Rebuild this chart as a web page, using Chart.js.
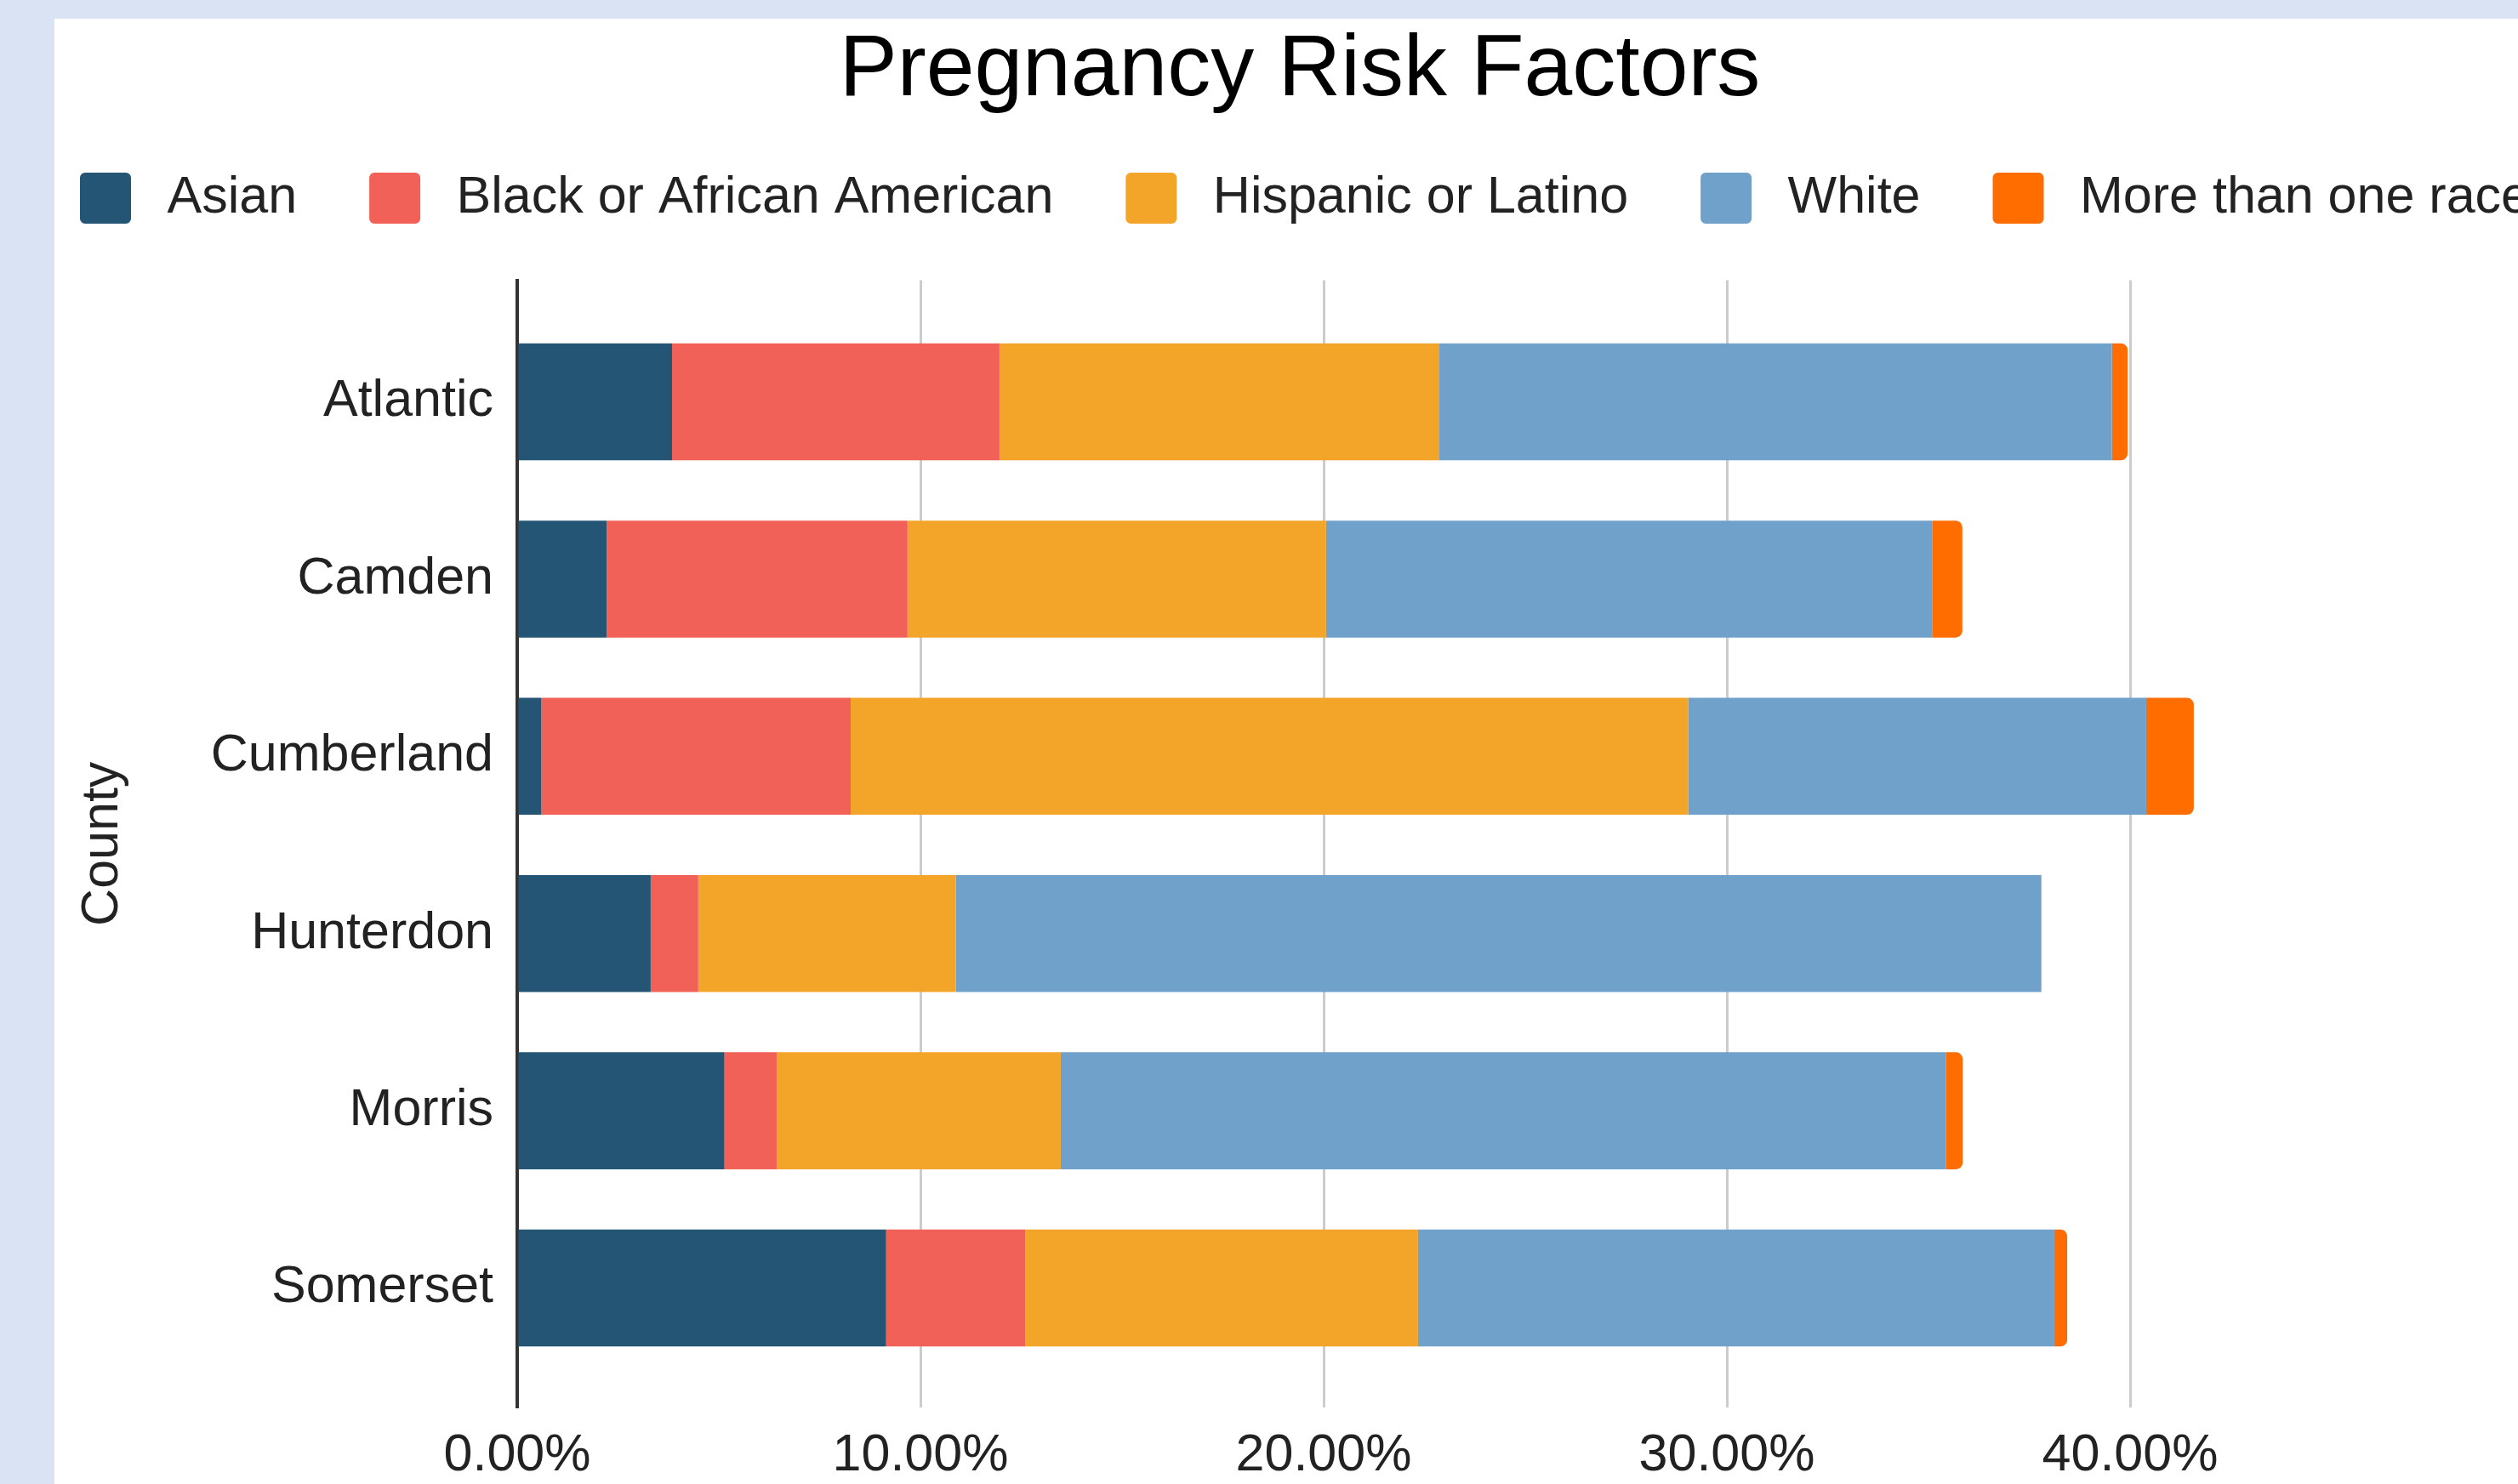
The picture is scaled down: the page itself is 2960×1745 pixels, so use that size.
<!DOCTYPE html>
<html>
<head>
<meta charset="utf-8">
<script src="https://cdn.jsdelivr.net/npm/chart.js@4.4.1/dist/chart.umd.min.js"></script>
<style>
  html, body { margin: 0; padding: 0; width: 2960px; height: 1745px; overflow: hidden; background: #dae3f3; }
  #panel { position: absolute; left: 64px; top: 22px; width: 2896px; height: 1723px; background: #ffffff; }
  #wrap { position: absolute; left: 0; top: 0; }
</style>
</head>
<body>
<div id="panel"></div>
<div id="wrap"><canvas id="c" width="3056" height="1745"></canvas></div>
<script>
// ---- data ----
const categories = ['Atlantic', 'Camden', 'Cumberland', 'Hunterdon', 'Morris', 'Somerset'];
const seriesNames = ['Asian', 'Black or African American', 'Hispanic or Latino', 'White', 'More than one race'];
const asian    = [3.84, 2.22, 0.60, 3.31, 5.14, 9.15];
const black    = [8.12, 7.46, 7.67, 1.18, 1.30, 3.45];
const hispanic = [10.91, 10.38, 20.77, 6.39, 7.04, 9.74];
const white    = [16.68, 15.03, 11.36, 26.92, 21.95, 15.78];
const multi    = [0.39, 0.75, 1.18, 0, 0.42, 0.32];
const xTickValues = [0, 10, 20, 30, 40, 50];
const xTickLabels = ['0.00%', '10.00%', '20.00%', '30.00%', '40.00%', ''];
const chartTitle = 'Pregnancy Risk Factors';
const yAxisTitle = 'County';

// ---- styles ----
const FAMILY = "'Liberation Sans', Arial, sans-serif";
const colors = ['#255574', '#f26157', '#f3a52a', '#70a1ca', '#ff6d00'];
const seriesValues = [asian, black, hispanic, white, multi];

const datasets = seriesValues.map((vals, k) => ({
  label: seriesNames[k],
  data: vals.map((v, i) => ({ x: v, y: i })),
  backgroundColor: colors[k],
  borderWidth: 0,
  borderRadius: k === seriesValues.length - 1 ? 8 : 0,
  barPercentage: 0.66,
  categoryPercentage: 1.0
}));

const legendGap = {
  id: 'legendGap',
  beforeLayout(chart) {
    const lg = chart.legend;
    if (lg && !lg._gapPatched) {
      const orig = lg.fit;
      lg.fit = function () { orig.call(this); this.height += 44.5; };
      lg._gapPatched = true;
    }
  }
};

new Chart(document.getElementById('c'), {
  type: 'bar',
  data: { datasets },
  plugins: [legendGap],
  options: {
    indexAxis: 'y',
    responsive: false,
    animation: false,
    events: [],
    layout: { padding: 0 },
    plugins: {
      tooltip: { enabled: false },
      title: {
        display: true,
        text: chartTitle,
        color: '#000000',
        font: { family: FAMILY, size: 102, weight: 'normal', lineHeight: 0.665 },
        padding: { top: 50.2, bottom: 0 }
      },
      legend: {
        display: true,
        position: 'top',
        align: 'center',
        labels: {
          boxWidth: 84,
          boxHeight: 84,
          padding: 73,
          color: '#222222',
          font: { family: FAMILY, size: 61 },
          generateLabels(chart) {
            const items = Chart.defaults.plugins.legend.labels.generateLabels(chart);
            return items.map(it => Object.assign(it, {
              strokeStyle: '#ffffff', lineWidth: 24, borderRadius: 18, lineJoin: 'miter'
            }));
          }
        }
      }
    },
    scales: {
      x: {
        type: 'linear',
        position: 'bottom',
        min: 0,
        max: 50,
        stacked: true,
        offset: false,
        afterBuildTicks(s) { s.ticks = xTickValues.map(v => ({ value: v })); },
        afterFit(s) { s.height = 90; s.paddingRight = 78; },
        ticks: {
          callback: (v) => xTickLabels[xTickValues.indexOf(v)],
          padding: 21,
          maxRotation: 0,
          autoSkip: false,
          color: '#222222',
          font: { family: FAMILY, size: 61 }
        },
        grid: {
          color: (ctx) => (ctx.tick && ctx.tick.value === 0) ? 'rgba(0,0,0,0)' : '#cccccc',
          lineWidth: 3,
          drawTicks: false,
          offset: false
        },
        border: { display: false }
      },
      y: {
        type: 'linear',
        position: 'left',
        reverse: true,
        min: -0.686,
        max: 5.674,
        stacked: true,
        offset: false,
        afterBuildTicks(s) { s.ticks = categories.map((_, i) => ({ value: i })); },
        afterFit(s) { s.width = 608; },
        ticks: {
          callback: (v) => categories[v],
          padding: 28,
          autoSkip: false,
          color: '#222222',
          font: { family: FAMILY, size: 61 }
        },
        grid: { display: false, drawTicks: false, offset: false },
        border: { display: true, color: '#333333', width: 4 },
        title: {
          display: true,
          text: yAxisTitle,
          color: '#222222',
          font: { family: FAMILY, size: 61 },
          padding: { top: 84.4, bottom: 0 }
        }
      }
    }
  }
});
</script>
</body>
</html>
